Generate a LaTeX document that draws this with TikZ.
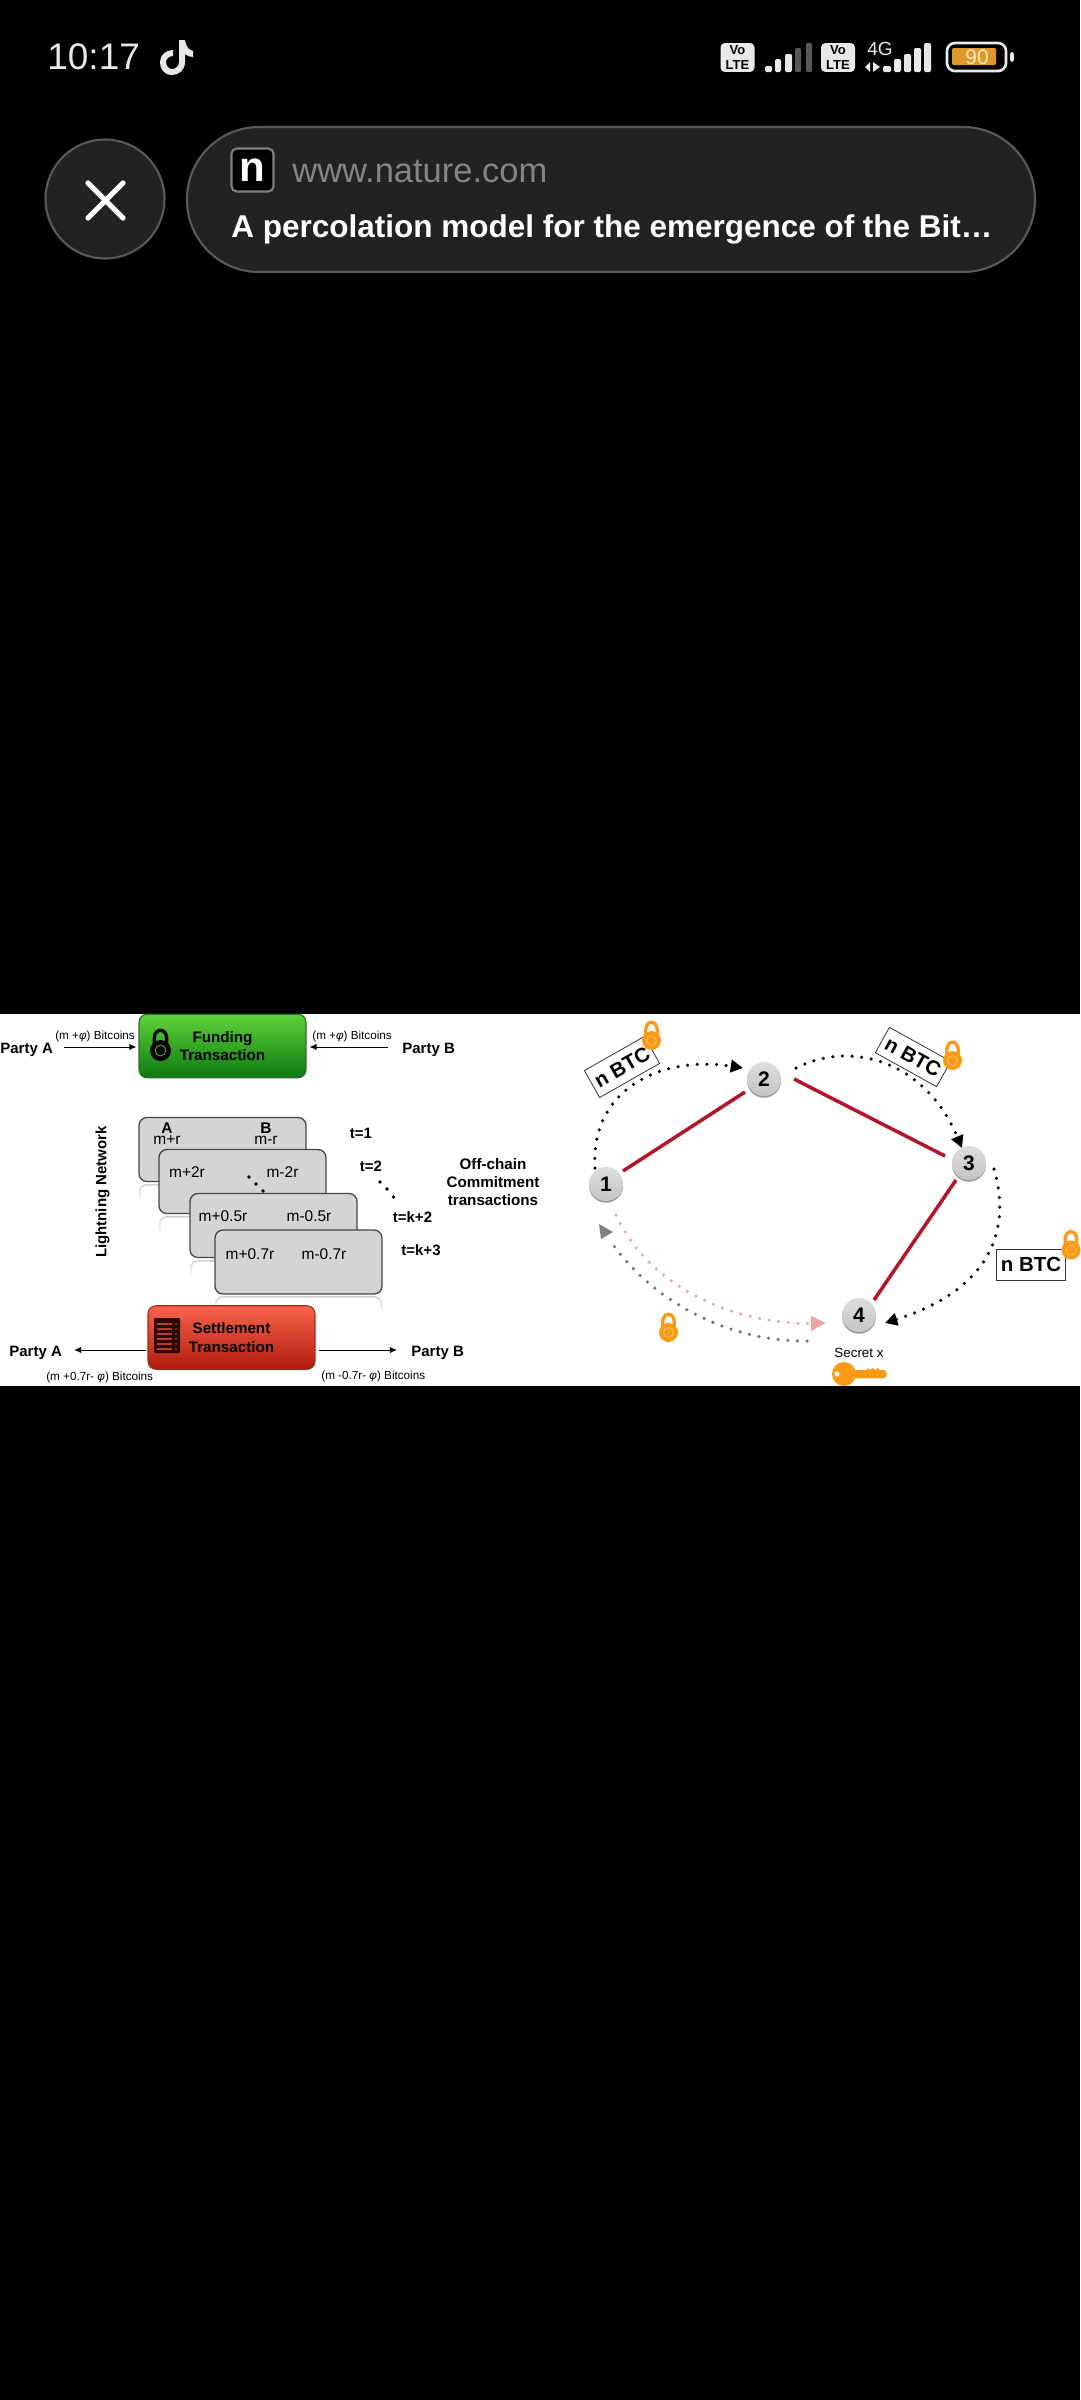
\documentclass[tikz,border=0pt]{standalone}
\usepackage{fontspec}
\setmainfont{Liberation Sans}
\usetikzlibrary{arrows.meta,calc,shadows}
\newcommand\fsz[1]{\fontsize{\fpeval{#1*0.569}}{\fpeval{#1*0.569*1.2}}\selectfont}
\definecolor{lockor}{HTML}{FB9A14}
\definecolor{lockring}{HTML}{FFC46A}
\definecolor{uired}{HTML}{B3152B}
\definecolor{pillbg}{HTML}{222222}
\definecolor{pilledge}{HTML}{5A5A5A}
\definecolor{uiwhite}{HTML}{E8E8E8}
\definecolor{battfill}{HTML}{E09A2B}
\definecolor{batttext}{HTML}{F8E6C4}
\definecolor{ringgreen}{HTML}{4FAF3A}
\definecolor{fundt}{HTML}{5FD23A}
\definecolor{fundb}{HTML}{0C7A10}
\definecolor{fundd}{HTML}{2F6B2A}
\definecolor{setlt}{HTML}{F9644F}
\definecolor{setlb}{HTML}{B01C0C}
\definecolor{setld}{HTML}{A52415}
\definecolor{docdark}{HTML}{2A0A06}
\definecolor{docslit}{HTML}{C23A28}
\definecolor{pinkdot}{HTML}{EBA6A6}
\definecolor{pinkhead}{HTML}{FF9F9F}
% lock icon: #1,#2 body centre; #3 body; #4 ring; #5 radius
\newcommand\lockicon[5]{%
  \draw[#3,line width=1.9pt] (#1-#5*0.6,#2-4) -- (#1-#5*0.6,#2-#5-1) .. controls (#1-#5*0.6,#2-#5*2.2) and (#1+#5*0.6,#2-#5*2.2) .. (#1+#5*0.6,#2-#5-1) -- (#1+#5*0.6,#2-4);
  \fill[#3] (#1,#2) circle[radius=#5];
  \draw[#4,line width=0.5pt] (#1,#2) circle[radius=#5*0.52];
}
\newcommand\reflectbar[2]{%
  \shade[top color=black!18,bottom color=white,rounded corners=4.5pt] (#1,#2) rectangle (#1+167,#2+21);
  \fill[white,rounded corners=4pt] (#1+1.5,#2+1.5) rectangle (#1+165.5,#2+24);
}
\tikzset{
  x=0.02cm,y=-0.02cm,
  lbl/.style={inner sep=0pt,text height=0.72em,text depth=0pt,font=\fsz{15}\bfseries},
  cardtxt/.style={inner sep=0pt,text height=0.72em,text depth=0pt,font=\fsz{15.5}},
  smalltxt/.style={inner sep=0pt,font=\fsz{11.7}},
  card/.style={draw=black!72,line width=0.75pt,fill=black!17,rectangle,rounded corners=4.5pt,minimum width=3.34cm,minimum height=1.28cm},
  txbox/.style={rectangle,rounded corners=4.5pt,minimum width=3.34cm,minimum height=1.27cm,align=center,inner sep=0pt,font=\fsz{15.2}\bfseries,line width=0.6pt},
  thinarrow/.style={line width=0.5pt,-{Latex[length=4pt,width=3.6pt]}},
  hop/.style={circle,minimum size=0.68cm,inner sep=0pt,top color=black!13,bottom color=black!23,font=\fsz{21}\bfseries,drop shadow={shadow xshift=0pt,shadow yshift=-1pt,fill=black!55,opacity=.7}},
  redline/.style={draw=uired,line width=2pt},
  dotline/.style={line width=2pt,line cap=round,dash pattern=on 0pt off 5.5pt},
  blackhead/.style={-{Triangle[length=7pt,width=7pt]}},
  btcbox/.style={draw=black!80,line width=0.45pt,rectangle,inner sep=0pt,minimum width=1.38cm,minimum height=0.62cm,font=\fsz{20.4}\bfseries},
  bars/.style={fill=uiwhite,rounded corners=0.8pt},
}
\begin{document}
\begin{tikzpicture}
\useasboundingbox (0,0) rectangle (1080,2400);
\fill[black] (0,0) rectangle (1080,2400);
% ---- status bar
\node[anchor=west,inner sep=0pt,text=uiwhite,font=\fsz{37}] (clock) at (47,57) {10:17};
\fill[uiwhite] (179,40) -- (185,40) .. controls (186,47) and (189,50) .. (193,51) -- (193,57) .. controls (190,57) and (187,56) .. (185,54) -- (185,62) .. controls (185,70) and (179,75) .. (172,75) .. controls (164,75) and (160,69) .. (160,62) .. controls (160,55) and (166,50) .. (173,50) -- (173,56) .. controls (169,56) and (166,59) .. (166,62) .. controls (166,66) and (169,69) .. (172,69) .. controls (176,69) and (179,66) .. (179,62) -- cycle;
\node[fill=uiwhite,rounded corners=2.5pt,minimum width=0.68cm,minimum height=0.58cm,inner sep=0pt,align=center,text=black,font=\fontsize{7.4}{8.4}\selectfont\bfseries] (vo1) at (737.5,57.5) {Vo\\LTE};
\fill[bars] (765,66) rectangle (772,72);
\fill[bars] (775,59) rectangle (781,72);
\fill[bars] (785,54) rectangle (792,72);
\fill[black!65,rounded corners=0.8pt] (795,48) rectangle (801,72);
\fill[black!65,rounded corners=0.8pt] (806,43) rectangle (812,72);
\node[fill=uiwhite,rounded corners=2.5pt,minimum width=0.68cm,minimum height=0.58cm,inner sep=0pt,align=center,text=black,font=\fontsize{7.4}{8.4}\selectfont\bfseries] (vo2) at (838,57.5) {Vo\\LTE};
\node[inner sep=0pt,text=uiwhite,font=\fsz{19}] (fourg) at (880,49) {4G};
\fill[uiwhite] (870,62) -- (870,72) -- (865,67) -- cycle;
\fill[uiwhite] (873,62) -- (873,72) -- (880,67) -- cycle;
\fill[bars] (883,66) rectangle (891,72);
\fill[bars] (894,59) rectangle (901,72);
\fill[bars] (904,54) rectangle (911,72);
\fill[bars] (914,48) rectangle (921,72);
\fill[bars] (924,43) rectangle (931,72);
\draw[uiwhite,line width=1.5pt,rounded corners=4.5pt] (947,43) rectangle (1006,71);
\fill[battfill,rounded corners=0.8pt] (952,48) rectangle (996,65);
\node[inner sep=0pt,text=batttext,font=\fsz{21}] (batt) at (977,57) {90};
\fill[uiwhite,rounded corners=1.5pt] (1010,52) rectangle (1014,62);
% ---- close button and pill
\node[circle,fill=pillbg,draw=pilledge,line width=1.2pt,minimum size=2.38cm,inner sep=0pt] (closebtn) at (105,199) {};
\draw[white,line width=3pt,line cap=round] (88,183) -- (123,218);
\draw[white,line width=3pt,line cap=round] (123,183) -- (88,218);
\fill[pillbg,draw=pilledge,line width=1.2pt,rounded corners=41pt] (187,127) rectangle (1035,272);
\node[rectangle,fill=black,draw=black!50,line width=1.2pt,rounded corners=3pt,minimum width=0.84cm,minimum height=0.86cm,inner sep=0pt,text=white,font=\fsz{42}\bfseries] (nlogo) at (252.5,170) {n};
\node[anchor=west,inner sep=0pt,text=black!48,font=\fsz{34.5}] (url) at (292,172) {www.nature.com};
\node[anchor=base west,inner sep=0pt,text=white,font=\fsz{31.5}\bfseries] (title) at (231,237) {A percolation model for the emergence of the Bit…};
% ---- white figure
\fill[white] (0,1014) rectangle (1080,1386);
% funding
\node[txbox,top color=fundt,bottom color=fundb,draw=fundd] (funding) at (222.5,1046) {Funding\\Transaction};
\lockicon{160.5}{1050.5}{black}{ringgreen}{10.5}
\node[lbl,anchor=west] (pa) at (0,1047) {Party A};
\node[lbl,anchor=west] (pb) at (402,1047) {Party B};
\draw[thinarrow,shorten <=6.3pt,shorten >=1.2pt] (pa.east) -- (funding.west |- pa.east);
\draw[thinarrow,shorten <=8pt,shorten >=1.7pt] (pb.west) -- (funding.east |- pb.west);
\node[smalltxt,anchor=west] (fa) at (55,1036) {(m +{\itshape φ}) Bitcoins};
\node[smalltxt,anchor=west] (fb) at (312,1036) {(m +{\itshape φ}) Bitcoins};
\node[lbl,rotate=90] (ln) at (100,1192) {Lightning Network};
% cards
\node[card] (c1) at (222.5,1149.5) {};
\reflectbar{139}{1184}
\node[card] (c2) at (242.5,1181.5) {};
\reflectbar{159}{1216}
\node[cardtxt] (ta) at (167,1127) {\bfseries A};
\node[cardtxt] (tb) at (266,1127) {\bfseries B};
\node[cardtxt] (t1a) at (167,1138) {m+r};
\node[cardtxt] (t1b) at (266,1138) {m-r};
\node[cardtxt] (t2a) at (187,1171) {m+2r};
\node[cardtxt] (t2b) at (282.5,1171) {m-2r};
\fill (249,1177) circle[radius=1.8] (256,1184) circle[radius=1.8] (263,1191) circle[radius=1.8];
\node[card] (c3) at (273.5,1225.5) {};
\reflectbar{190}{1260}
\node[cardtxt] (t3a) at (223,1215) {m+0.5r};
\node[cardtxt] (t3b) at (309,1215) {m-0.5r};
\node[card] (c4) at (298.5,1262) {};
\reflectbar{215}{1296}
\node[cardtxt] (t4a) at (250,1253) {m+0.7r};
\node[cardtxt] (t4b) at (324,1253) {m-0.7r};
\node[lbl] (t1) at (361,1132) {t=1};
\node[lbl] (t2) at (371,1165) {t=2};
\fill (380,1182) circle[radius=1.8] (387,1189) circle[radius=1.8] (393.5,1197) circle[radius=1.8];
\node[lbl] (tk2) at (412.5,1216) {t=k+2};
\node[lbl] (tk3) at (421,1249) {t=k+3};
\node[inner sep=0pt,align=center,font=\fsz{15.2}\bfseries] (offc) at (493,1182) {Off-chain\\Commitment\\transactions};
% settlement
\node[txbox,top color=setlt,bottom color=setlb,draw=setld] (settle) at (231.5,1337.5) {Settlement\\Transaction};
\fill[docdark,rounded corners=0.6pt] (154,1318) rectangle (180,1353);
\foreach \yy in {1323,1328,1333,1338,1343,1348} {
  \fill[docslit] (157,\yy) rectangle (172,\yy+1.6);
  \fill[docslit] (176,\yy+0.8) circle[radius=1];
}
\node[lbl,anchor=west] (pa2) at (9,1350) {Party A};
\node[lbl,anchor=west] (pb2) at (411,1350) {Party B};
\draw[thinarrow,shorten <=0.6pt,shorten >=6.8pt] (settle.west |- pa2.east) -- (pa2.east);
\draw[thinarrow,shorten <=1.7pt,shorten >=8pt] (settle.east |- pb2.west) -- (pb2.west);
\node[smalltxt,anchor=west] (sa) at (46,1377) {(m +0.7r- {\itshape φ}) Bitcoins};
\node[smalltxt,anchor=west] (sb) at (321,1376) {(m -0.7r- {\itshape φ}) Bitcoins};
% ---- route diagram
\node[hop] (n1) at (606,1184) {1};
\node[hop] (n2) at (764,1079) {2};
\node[hop] (n3) at (969,1163) {3};
\node[hop] (n4) at (859,1315) {4};
\draw[redline] ($(n1)+(17,-13)$) -- ($(n2)+(-19,13)$);
\draw[redline] ($(n2)+(30,0)$) -- ($(n3)+(-24,-7)$);
\draw[redline] ($(n3)+(-13,17)$) -- ($(n4)+(15,-15)$);
\draw[dotline,blackhead] ($(n1)+(-11,-16)$) .. controls (590,1090) and (660,1055) .. ($(n2)+(-21,-11)$);
\draw[dotline,blackhead] ($(n2)+(32,-11)$) .. controls (850,1040) and (925,1060) .. ($(n3)+(-7,-15)$);
\draw[dotline,blackhead] ($(n3)+(25,6)$) .. controls (1012,1230) and (990,1290) .. ($(n4)+(26,8)$);
\draw[dotline,draw=pinkdot,-{Triangle[length=8.5pt,width=8pt,fill=pinkhead]}] ($(n1)+(10,31)$) .. controls (650,1290) and (740,1325) .. ($(n4)+(-33,8)$);
\coordinate (gs) at ($(n4)+(-52,26)$);
\coordinate (ge) at ($(n1)+(6,59)$);
\draw[dotline,draw=black!55] (gs) .. controls (725,1342) and (650,1298) .. (ge);
\fill[black!50] (599,1224) -- (613,1232) -- (601,1239) -- cycle;
\node[btcbox,rotate=29.6,font=\fsz{20.5}\bfseries] (b1) at (622,1067) {n BTC};
\node[btcbox,rotate=-29,minimum height=0.58cm,minimum width=1.4cm,font=\fsz{20.5}\bfseries] (b2) at (913,1057) {n BTC};
\node[btcbox] (b3) at (1031,1264.5) {n BTC};
\lockicon{651.5}{1040.5}{lockor}{lockring}{9.5}
\lockicon{952.5}{1060.5}{lockor}{lockring}{9.5}
\lockicon{1071}{1250}{lockor}{lockring}{9.5}
\lockicon{668.5}{1332.5}{lockor}{lockring}{9.5}
\node[inner sep=0pt,font=\fsz{13.4}] (secret) at (859,1353) {Secret x};
% key
\fill[lockor] (844,1374) circle[radius=12];
\fill[lockor] (852,1370) -- (866,1370) -- (868,1368) -- (870,1370) -- (873,1368) -- (875,1370) -- (878,1368) -- (880,1370) -- (885,1370) -- (887,1374) -- (885,1378) -- (852,1378) -- cycle;
\fill[white] (837,1374) circle[radius=2.5];
\end{tikzpicture}
\end{document}
